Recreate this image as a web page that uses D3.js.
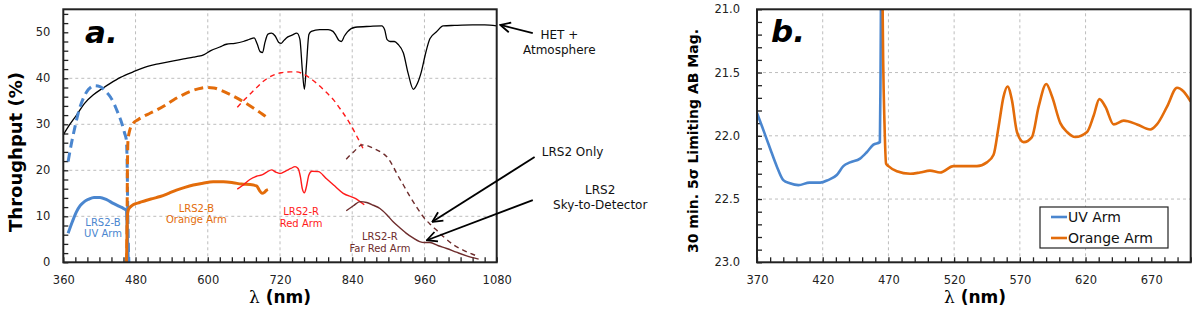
<html>
<head>
<script src="https://d3js.org/d3.v7.min.js"></script>
<style>
body { margin:0; background:#fff; }
text { font-family: "DejaVu Sans", Verdana, sans-serif; }
</style>
</head>
<body>
<script>
// ---- panel a data: [wavelength nm, throughput %]
var hetAtm = [[360,27.7],[370,29.8],[382,32],[395,34.5],[410,36.4],[425,37.8],[438,38.9],[455,40.2],[476,41.4],[500,42.6],[520,43.2],[543,43.8],[560,44.2],[576,44.6],[585,44.8],[593,45.1],[605,46],[620,46.8],[631,47.4],[645,47.6],[659,48],[670,48.5],[677,48.8],[682,47.5],[687,45.8],[691,45.6],[695,47.8],[700,49.6],[706,49.8],[712,49.2],[718,47.8],[722,47.6],[727,48.3],[733,49.0],[740,49.4],[748,49.8],[753,48.5],[757,42],[760.5,37.6],[764,43],[768,49.5],[772,50.2],[786,50.6],[800,50.6],[808,50.2],[813,49.3],[818,48.2],[822,48.0],[827,49.2],[832,50.1],[845,51.1],[870,51.3],[889,51.4],[894,50.5],[898,48.4],[903,48.0],[910,48.0],[916,47.4],[925,45.5],[933,41],[941.5,37.6],[948,38.8],[955,41.5],[962,45.5],[969,48.6],[980,50.1],[991,51.4],[1010,51.5],[1040,51.6],[1060,51.6],[1080,51.4]];
var uvOnly = [[368,21.9],[373,25.5],[379.5,29.5],[386,33],[393,35.6],[402,37.6],[412,38.4],[421,38.2],[430,37.2],[438,36],[445,34.3],[451,32.4],[457,30.3],[462,28],[464.5,26.8],[466,22],[467,12],[468,4],[469,0]];
var uvSky = [[368,6.3],[375,8.8],[382,11],[388,12.3],[395,13.2],[402,13.7],[411,14.1],[421,14.1],[432,13.6],[443,12.8],[452,12.2],[460,11.7],[465,11.2],[466,8],[467,4],[468,0]];
var orangeOnly = [[465.5,0],[466,10],[466.5,20],[467.5,26.5],[470,28.5],[476,30.2],[484,31],[493,31.7],[504,32.4],[515,33.1],[530,34.2],[543,35.3],[557,36.3],[570,37.1],[584,37.7],[598,38],[610,37.9],[620,37.5],[637,36.5],[654,35.3],[668,34.2],[681,33.1],[691,32.2],[700,31.3]];
var orangeSky = [[465,0],[465.8,6],[466.5,10],[468,11.4],[472,12.1],[476,12.5],[487,13],[498.5,13.5],[510,13.9],[521,14.3],[535,15],[548,15.7],[562,16.3],[576,16.8],[592,17.2],[609,17.5],[626,17.5],[642,17.3],[656,17],[670,16.9],[681,16.6],[686,15.6],[690,15],[694,15.2],[697,15.6],[700,15.8]];
var redOnly = [[649,33.7],[662,35.5],[676,37.3],[690,39.1],[709,40.7],[722,41.2],[737,41.4],[748,41.4],[756,41.1],[768,40.2],[781,38.9],[795,37.2],[809,35.3],[822,33],[836,30.2],[848,27.3],[860,24.2]];
var redSky = [[649,15.9],[660,16.9],[670,18],[681,18.7],[690,19],[698,19.6],[706,20.1],[713,19.6],[720,19.3],[730,19.9],[738,20.4],[745,20.8],[750,20.4],[754,18.5],[757,16],[760.5,15.1],[764,16.5],[768,19],[773,19.8],[784,19.7],[796,18.3],[809,16.8],[825,15.0],[845,13.9],[860,12.5]];
var farRedOnly = [[830,22.4],[843,24.1],[856,25.5],[866,25.3],[875,24.8],[887,24],[897,23],[906,21.3],[914,19.3],[925,16.8],[936,14.3],[947,12],[958,9.9],[970,8.2],[980,7],[994,5.3],[1008,3.8],[1025,2.6],[1041,1.7],[1050,1.2]];
var farRedSky = [[830,11.2],[842,12.3],[853,13.2],[864,13],[875,12.4],[886,11.7],[897,10.4],[908,8.8],[919,7.5],[930,6.3],[941,5.3],[952,4.5],[960,4.3],[969,4.3],[983,3.6],[997,3],[1013,2.2],[1030,1.4],[1050,0.7]];

// ---- panel b data: [wavelength nm, limiting AB mag]
var uvMag = [[370,21.82],[374,21.93],[377.5,22.03],[381,22.13],[385,22.24],[390,22.35],[395,22.375],[401.5,22.39],[410,22.37],[418,22.37],[424,22.35],[430.7,22.31],[435.7,22.24],[440.8,22.21],[448.4,22.18],[453.5,22.13],[458.6,22.07],[463.5,22.05],[464,21.5],[464.4,20.8]];
var orangeMag = [[465.4,20.8],[466,21.4],[467,21.9],[468.2,22.22],[470,22.24],[476.4,22.28],[486.5,22.3],[494,22.29],[501.6,22.275],[509.3,22.29],[519.5,22.24],[528,22.24],[537.3,22.24],[544.9,22.21],[550,22.15],[553.8,21.93],[557.6,21.69],[560.6,21.61],[564,21.72],[567.8,21.97],[572.9,22.05],[579.2,22.01],[584.3,21.77],[590.1,21.59],[594.5,21.69],[600.8,21.9],[605.9,21.97],[612.2,22.01],[621.1,21.97],[626.2,21.84],[630.5,21.71],[635.1,21.77],[641.4,21.91],[649,21.88],[659.2,21.91],[669.2,21.95],[674.3,21.91],[682,21.77],[689.6,21.62],[694.6,21.65],[700,21.73]];

var xTicksA = [360,480,600,720,840,960,1080];
var yTicksA = [0,10,20,30,40,50];
var xTicksB = [370,420,470,520,570,620,670];
var yTicksB = [21.0,21.5,22.0,22.5,23.0];

var blue = "#4a86cf", orange = "#e36c0a", red = "#ff1a1a", darkred = "#6e2c2c";

var svg = d3.select("body").append("svg").attr("width",1200).attr("height",309);

var defs = svg.append("defs");
defs.append("marker").attr("id","arr").attr("viewBox","0 0 12 12")
  .attr("refX",11).attr("refY",6).attr("markerWidth",12).attr("markerHeight",12)
  .attr("markerUnits","userSpaceOnUse").attr("orient","auto")
  .append("path").attr("d","M1,1 L11,6 L1,11").attr("fill","none")
  .attr("stroke","#000").attr("stroke-width",1.8);

function frame(g, x, y, xMinor, yMinor, xTicks, yTicks, yFmt, yPad) {
  var x0 = x.range()[0], x1 = x.range()[1], y0 = y.range()[0], y1 = y.range()[1];
  // grid
  g.append("g").selectAll("line").data(xTicks.slice(1,-1)).enter().append("line")
    .attr("x1",x).attr("x2",x).attr("y1",y0).attr("y2",y1)
    .attr("stroke","#bdbdbd").attr("stroke-dasharray","3,3").attr("stroke-width",1);
  g.append("g").selectAll("line").data(yTicks.slice(1,-1)).enter().append("line")
    .attr("x1",x0).attr("x2",x1).attr("y1",y).attr("y2",y)
    .attr("stroke","#bdbdbd").attr("stroke-dasharray","3,3").attr("stroke-width",1);
  // inward minor ticks
  var xa = g.append("g").attr("transform","translate(0,"+y0+")")
    .call(d3.axisBottom(x).tickValues(xMinor).tickSizeInner(-5).tickSizeOuter(0).tickFormat(""));
  var ya = g.append("g").attr("transform","translate("+x0+",0)")
    .call(d3.axisLeft(y).tickValues(yMinor).tickSizeInner(-5).tickSizeOuter(0).tickFormat(""));
  [xa,ya].forEach(function(a){ a.select(".domain").remove(); a.selectAll("line").attr("stroke","#222").attr("stroke-width",1.3); });
  // labels
  var xl = g.append("g").attr("transform","translate(0,"+y0+")")
    .call(d3.axisBottom(x).tickValues(xTicks).tickSize(0).tickPadding(14).tickFormat(d3.format("d")));
  var yl = g.append("g").attr("transform","translate("+x0+",0)")
    .call(d3.axisLeft(y).tickValues(yTicks).tickSize(0).tickPadding(yPad).tickFormat(yFmt));
  [xl,yl].forEach(function(a){ a.select(".domain").remove();
    a.selectAll("text").attr("font-family","DejaVu Sans").attr("font-size",11.5).attr("fill","#222"); });
}

function border(g, x, y) {
  g.append("rect").attr("x",x.range()[0]).attr("y",y.range()[1])
    .attr("width",x.range()[1]-x.range()[0]).attr("height",y.range()[0]-y.range()[1])
    .attr("fill","none").attr("stroke","#222").attr("stroke-width",2);
}

// ================= panel a =================
var xa = d3.scaleLinear().domain([360,1080]).range([63.3,496.7]);
var ya = d3.scaleLinear().domain([0,55]).range([262.3,9.3]);
var ga = svg.append("g");
frame(ga, xa, ya, d3.range(360,1081,20), d3.range(0,55,2), xTicksA, yTicksA, d3.format("d"), 13);

var lineA = d3.line().x(function(d){return xa(d[0]);}).y(function(d){return ya(d[1]);}).curve(d3.curveMonotoneX);

var seriesA = [
  {d:hetAtm, c:"#000", w:1.3, dash:null},
  {d:uvOnly, c:blue, w:3, dash:"9,5"},
  {d:orangeOnly, c:orange, w:3, dash:"9,5"},
  {d:redOnly, c:red, w:1.4, dash:"5,4"},
  {d:farRedOnly, c:darkred, w:1.4, dash:"5,4"},
  {d:uvSky, c:blue, w:3, dash:null},
  {d:orangeSky, c:orange, w:3, dash:null},
  {d:redSky, c:red, w:1.4, dash:null},
  {d:farRedSky, c:darkred, w:1.4, dash:null}
];
ga.append("g").selectAll("path").data(seriesA).enter().append("path")
  .attr("d",function(s){return lineA(s.d);})
  .attr("fill","none").attr("stroke",function(s){return s.c;})
  .attr("stroke-width",function(s){return s.w;})
  .attr("stroke-dasharray",function(s){return s.dash;});

border(ga, xa, ya);

// arm labels
var armLabels = [
  {x:426, y:8.0, t:["LRS2-B","UV Arm"], c:blue},
  {x:581, y:10.9, t:["LRS2-B","Orange Arm"], c:orange},
  {x:755, y:10.2, t:["LRS2-R","Red Arm"], c:red},
  {x:886, y:4.75, t:["LRS2-R","Far Red Arm"], c:darkred}
];
armLabels.forEach(function(l){
  var t = ga.append("text").attr("x",xa(l.x)).attr("y",ya(l.y)).attr("text-anchor","middle")
    .attr("font-size",10).attr("fill",l.c);
  l.t.forEach(function(s,i){ t.append("tspan").attr("x",xa(l.x)).attr("dy",i?"1.12em":0).text(s); });
});

// annotations (data units)
var notes = [
  {from:[1140,49.8], to:[1086,51.6], lines:["HET +","Atmosphere"], tx:1184, ty:48.6},
  {from:[1143,22.9], to:[973,8.8], lines:["LRS2 Only"], tx:1206, ty:23.1},
  {from:[1140,13.5], to:[964,4.8], lines:["LRS2","Sky-to-Detector"], tx:1252, ty:14.8}
];
notes.forEach(function(n){
  svg.append("line").attr("x1",xa(n.from[0])).attr("y1",ya(n.from[1]))
    .attr("x2",xa(n.to[0])).attr("y2",ya(n.to[1]))
    .attr("stroke","#000").attr("stroke-width",1.8).attr("marker-end","url(#arr)");
  var t = svg.append("text").attr("x",xa(n.tx)).attr("y",ya(n.ty)).attr("text-anchor","middle")
    .attr("font-size",12).attr("fill","#111");
  n.lines.forEach(function(s,i){ t.append("tspan").attr("x",xa(n.tx)).attr("dy",i?"1.25em":0).text(s); });
});

svg.append("text").attr("x",85).attr("y",43).attr("font-size",31).attr("font-weight","bold")
  .attr("font-style","italic").attr("font-family","DejaVu Sans").text("a.");
svg.append("text").attr("transform","translate(22,"+152+") rotate(-90)").attr("text-anchor","middle")
  .attr("font-size",18).attr("font-weight","bold").text("Throughput (%)");
svg.append("text").attr("x",280).attr("y",303).attr("text-anchor","middle")
  .attr("font-size",17).attr("font-weight","bold")
  .html('<tspan font-family="DejaVu Serif" font-weight="normal">λ</tspan> (nm)');

// ================= panel b =================
var xb = d3.scaleLinear().domain([370,700]).range([757,1190.7]);
var yb = d3.scaleLinear().domain([23,21]).range([262.3,9.3]);
var gb = svg.append("g");
frame(gb, xb, yb, d3.range(370,701,10), d3.range(21,23.001,0.1), xTicksB, yTicksB, d3.format(".1f"), 17);

defs.append("clipPath").attr("id","clipb").append("rect")
  .attr("x",757).attr("y",9.3).attr("width",1190.7-757).attr("height",253);

var lineB = d3.line().x(function(d){return xb(d[0]);}).y(function(d){return yb(d[1]);}).curve(d3.curveMonotoneX);
var seriesB = [{name:"UV Arm", d:uvMag, c:blue},{name:"Orange Arm", d:orangeMag, c:orange}];
gb.append("g").attr("clip-path","url(#clipb)").selectAll("path").data(seriesB).enter().append("path")
  .attr("d",function(s){return lineB(s.d);}).attr("fill","none")
  .attr("stroke",function(s){return s.c;}).attr("stroke-width",2.6);

border(gb, xb, yb);

// legend
var lg = gb.append("g").attr("transform","translate(1040,207)");
lg.append("rect").attr("width",128).attr("height",41).attr("fill","#fff").attr("stroke","#222").attr("stroke-width",1.2);
var li = lg.selectAll("g.it").data(seriesB).enter().append("g").attr("class","it")
  .attr("transform",function(d,i){return "translate(0,"+(10+i*21)+")";});
li.append("line").attr("x1",11).attr("x2",27).attr("stroke",function(d){return d.c;}).attr("stroke-width",2.6);
li.append("text").attr("x",28).attr("dy","0.36em").attr("font-size",14).attr("fill","#111").text(function(d){return d.name;});

svg.append("text").attr("x",771).attr("y",42).attr("font-size",31).attr("font-weight","bold")
  .attr("font-style","italic").attr("font-family","DejaVu Sans").text("b.");
svg.append("text").attr("transform","translate(698,141) rotate(-90)").attr("text-anchor","middle")
  .attr("font-size",14).attr("font-weight","bold").text("30 min. 5σ Limiting AB Mag.");
svg.append("text").attr("x",975).attr("y",303).attr("text-anchor","middle")
  .attr("font-size",17).attr("font-weight","bold")
  .html('<tspan font-family="DejaVu Serif" font-weight="normal">λ</tspan> (nm)');
</script>
</body>
</html>
